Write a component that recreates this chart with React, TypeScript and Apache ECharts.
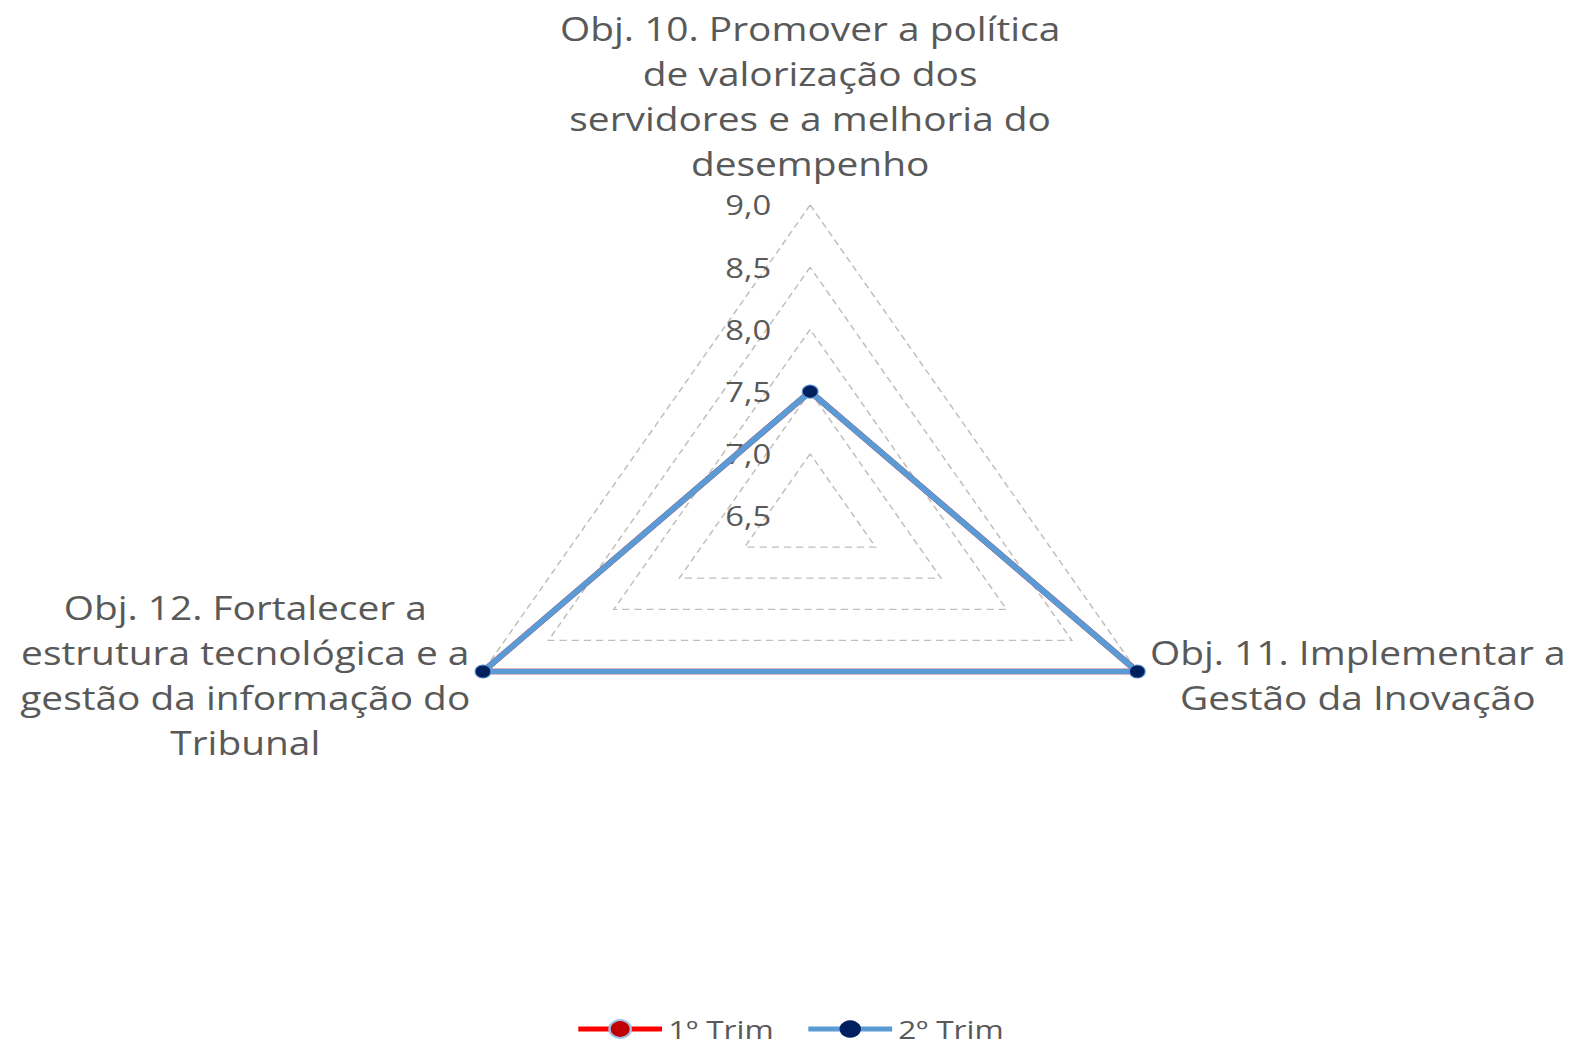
import React, { useEffect, useRef } from "react";
import * as echarts from "echarts";

// Indicators in ECharts drawing order (top, then counter-clockwise: lower-left, lower-right)
const indicatorNames = [
  "Obj. 10. Promover a política\nde valorização dos\nservidores e a melhoria do\ndesempenho",
  "Obj. 12. Fortalecer a\nestrutura tecnológica e a\ngestão da informação do\nTribunal",
  "Obj. 11. Implementar a\nGestão da Inovação",
];
const axisMin = 6.5;
const axisMax = 9.0;
const splitCount = 5;
const seriesNames = ["1º Trim", "2º Trim"];
const trim1Values = [7.5, 9.0, 9.0];
const trim2Values = [7.5, 9.0, 9.0];

const FONT = "'Open Sans', Lato, sans-serif";
const TEXT = "#595959";
const BASE_W = 1300;
const BASE_H = 1046;
const SCALE_X = 1579 / BASE_W;

const fmt = (v: number) => Number(v).toFixed(1).replace(".", ",");

export default function App() {
  const ref = useRef<HTMLDivElement>(null);
  useEffect(() => {
    if (!ref.current) return;
    const chart = echarts.init(ref.current, undefined, { renderer: "svg" });
    const nameStyle = {
      color: TEXT,
      fontSize: 32,
      fontFamily: FONT,
      lineHeight: 45,
      align: "center",
    };
    chart.setOption({
      animation: false,
      legend: {
        top: 1011,
        left: "center",
        itemWidth: 69,
        itemHeight: 22,
        itemGap: 26,
        data: seriesNames,
        textStyle: { fontSize: 26, color: TEXT, fontFamily: FONT },
        lineStyle: { width: 5 },
      },
      grid: { show: false, left: 0, top: 0, width: 10, height: 10 },
      xAxis: { show: false, type: "value" },
      yAxis: { show: false, type: "value" },
      radar: {
        center: [667, 516],
        radius: 311,
        startAngle: 90,
        shape: "polygon",
        splitNumber: splitCount,
        nameGap: 12,
        axisName: {
          color: TEXT,
          fontSize: 32,
          fontFamily: FONT,
          lineHeight: 45,
          padding: [0, 0, 6, 0],
          formatter: (name: string) =>
            name
              .split("\n")
              .map((l) => `{c|${l}}`)
              .join("\n"),
          rich: { c: nameStyle },
        },
        indicator: indicatorNames.map((n, i) => ({
          name: n,
          min: axisMin,
          max: axisMax,
          axisLabel: { show: i === 0 },
        })),
        axisLine: { show: false },
        axisTick: { show: false },
        axisLabel: {
          show: false,
          margin: 32,
          fontSize: 27,
          color: TEXT,
          fontFamily: FONT,
          formatter: (v: number) => fmt(v),
        },
        splitLine: {
          lineStyle: { color: "#BFBFBF", width: 1.3, type: [6, 4] },
        },
        splitArea: { show: false },
      },
      series: [
        {
          type: "line",
          name: seriesNames[0],
          data: [],
          symbol: "circle",
          lineStyle: { color: "#FF0000", width: 5 },
          itemStyle: { color: "#C00000", borderColor: "#9DC3E6", borderWidth: 1 },
        },
        {
          type: "line",
          name: seriesNames[1],
          data: [],
          symbol: "circle",
          lineStyle: { color: "#5B9BD5", width: 5 },
          itemStyle: { color: "#002060" },
        },
        {
          type: "radar",
          name: seriesNames[0],
          symbol: "circle",
          symbolSize: 13,
          lineStyle: { color: "#FF0000", width: 5.5 },
          itemStyle: { color: "#C00000" },
          data: [{ name: seriesNames[0], value: trim1Values }],
        },
        {
          type: "radar",
          name: seriesNames[1],
          symbol: "circle",
          symbolSize: 13,
          lineStyle: { color: "#5B9BD5", width: 5.5 },
          itemStyle: { color: "#002060", borderColor: "#5B9BD5", borderWidth: 1 },
          data: [{ name: seriesNames[1], value: trim2Values }],
        },
      ],
    });
    return () => chart.dispose();
  }, []);

  return (
    <div
      style={{
        position: "fixed",
        left: 0,
        top: 0,
        width: 1579,
        height: 1046,
        overflow: "hidden",
        background: "#fff",
      }}
    >
      <div
        ref={ref}
        style={{
          width: BASE_W,
          height: BASE_H,
          transform: `scaleX(${SCALE_X})`,
          transformOrigin: "0 0",
        }}
      />
    </div>
  );
}
